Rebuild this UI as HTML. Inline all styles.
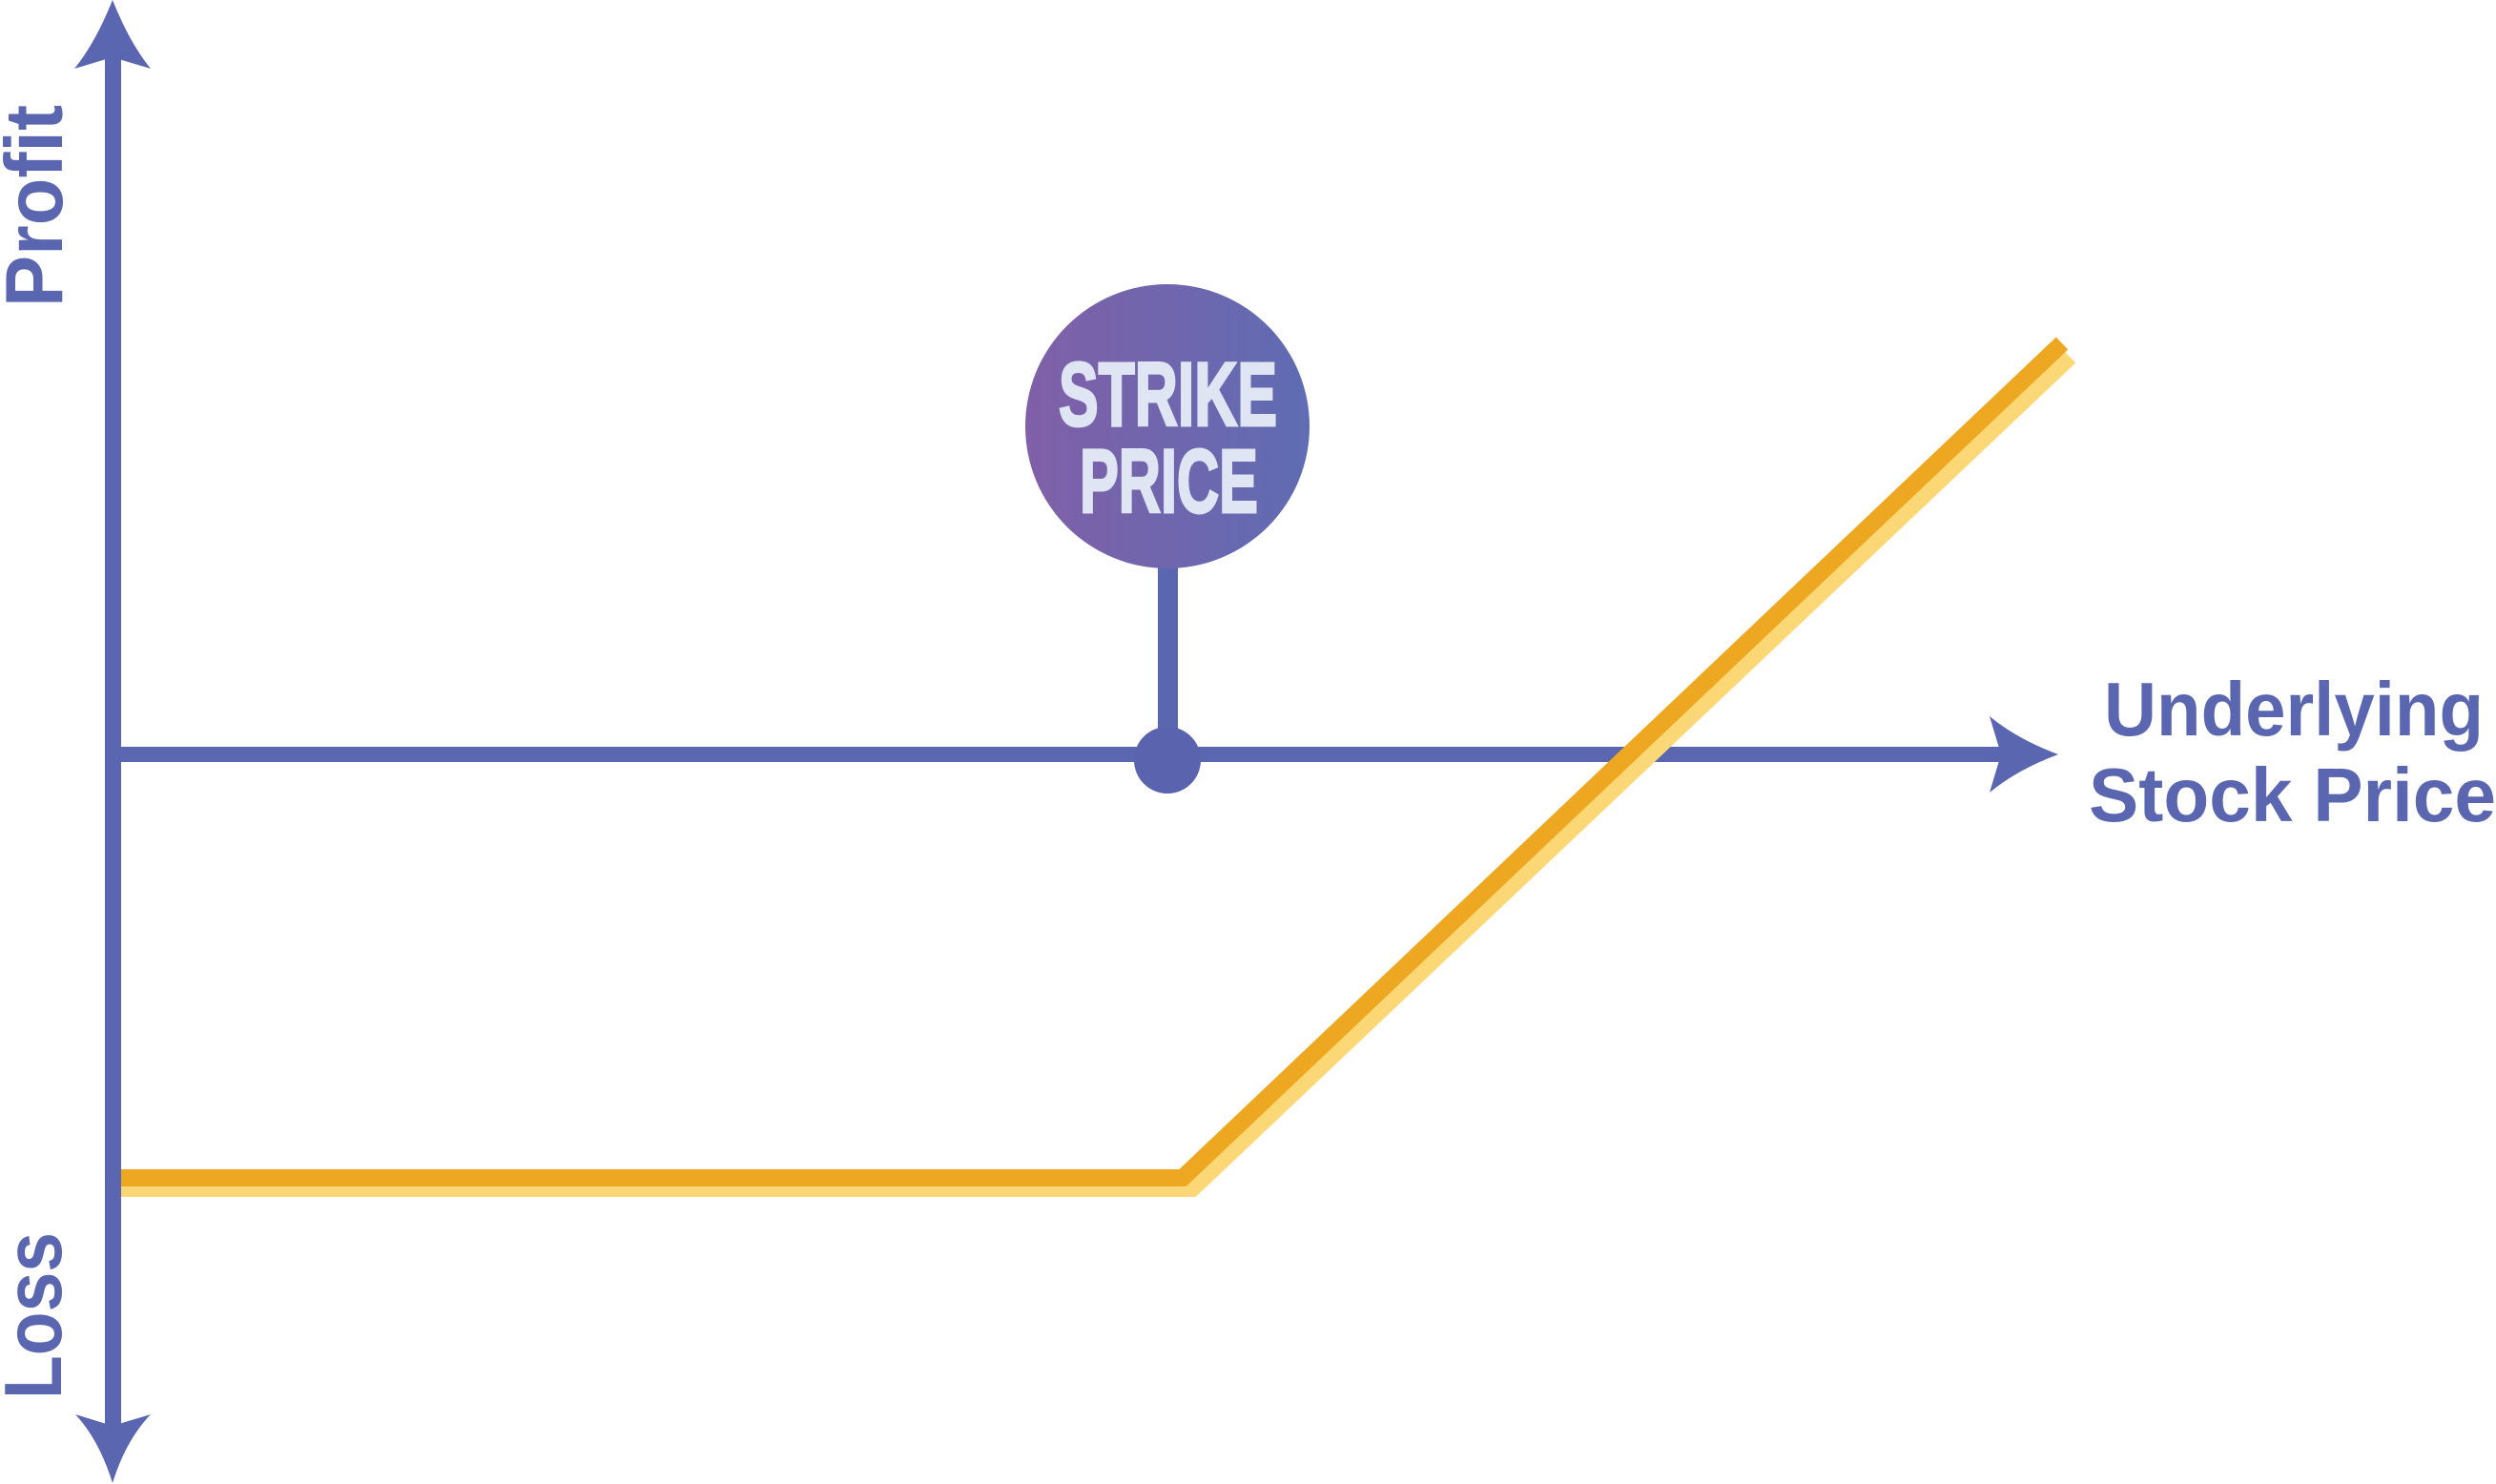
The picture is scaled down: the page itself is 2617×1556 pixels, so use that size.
<!DOCTYPE html>
<html><head><meta charset="utf-8"><style>html,body{margin:0;padding:0;background:#fff;}svg{display:block}</style></head>
<body>
<svg width="2617" height="1556" viewBox="0 0 2617 1556" xmlns="http://www.w3.org/2000/svg">
<defs>
<linearGradient id="g" x1="0" y1="0" x2="1" y2="0">
<stop offset="0" stop-color="#8060a8"/><stop offset="1" stop-color="#5f6cb3"/>
</linearGradient>
</defs>
<!-- vertical axis -->
<rect x="110" y="55" width="17" height="1445" fill="#5b66b0"/>
<path d="M118,0 Q100,45 78,72 L118,60 L158,72 Q136,45 118,0Z" fill="#5b66b0"/>
<path d="M118,1555 Q104,1510 79,1483 L118,1495 L158,1483 Q132,1510 118,1555Z" fill="#5b66b0"/>
<!-- horizontal axis -->
<rect x="118" y="783" width="1985" height="16" fill="#5b66b0"/>
<path d="M2158,791 Q2115,775 2086,751 L2098,791 L2086,831 Q2115,807 2158,791Z" fill="#5b66b0"/>
<!-- payoff line -->
<polyline points="127,1246 1250,1246 2170,374" fill="none" stroke="#fcd775" stroke-width="18"/>
<polyline points="127,1235 1240,1235 2162,360" fill="none" stroke="#eda720" stroke-width="18"/>
<!-- strike marker -->
<rect x="1214" y="560" width="21" height="237" fill="#5b66b0"/>
<circle cx="1224" cy="797" r="35" fill="#5a64ae"/>
<circle cx="1224" cy="447" r="149" fill="url(#g)"/>
<text x="1110" y="446" font-family="Liberation Sans Narrow, Liberation Sans, sans-serif" font-weight="bold" font-size="95" fill="#dfe5f3" stroke="#dfe5f3" stroke-width="3" textLength="229" lengthAdjust="spacingAndGlyphs">STRIKE</text>
<text x="1132" y="537" font-family="Liberation Sans Narrow, Liberation Sans, sans-serif" font-weight="bold" font-size="95" fill="#dfe5f3" stroke="#dfe5f3" stroke-width="3" textLength="187" lengthAdjust="spacingAndGlyphs">PRICE</text>
<!-- labels -->
<text x="2206" y="771" font-family="Liberation Sans, sans-serif" font-weight="bold" font-size="80" fill="#5b66b0" textLength="398" lengthAdjust="spacingAndGlyphs">Underlying</text>
<text x="2190" y="861" font-family="Liberation Sans, sans-serif" font-weight="bold" font-size="80" fill="#5b66b0" textLength="427" lengthAdjust="spacingAndGlyphs">Stock Price</text>
<text transform="translate(65,322) rotate(-90)" font-family="Liberation Sans, sans-serif" font-weight="bold" font-size="85" fill="#5b66b0" textLength="212" lengthAdjust="spacingAndGlyphs">Profit</text>
<text transform="translate(64,1467) rotate(-90)" font-family="Liberation Sans, sans-serif" font-weight="bold" font-size="85" fill="#5b66b0" textLength="175" lengthAdjust="spacingAndGlyphs">Loss</text>
</svg>
</body></html>
